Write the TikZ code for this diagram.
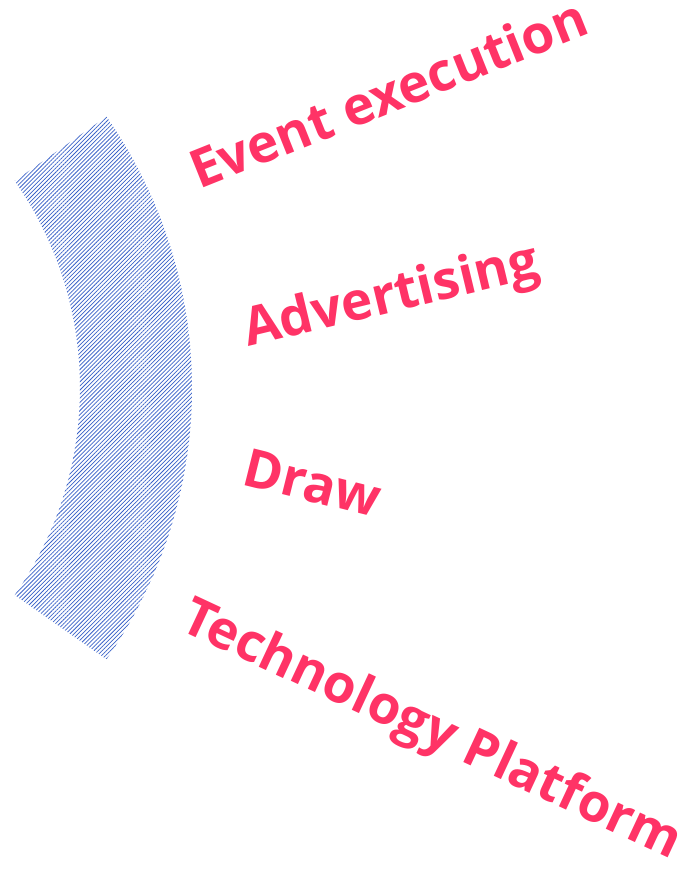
\documentclass[tikz,border=0pt]{standalone}
\usepackage{fontspec}
\setmainfont{Open Sans}
\usetikzlibrary{patterns.meta,calc}
\definecolor{pinkred}{HTML}{FF3366}
\definecolor{hatchblue}{HTML}{3A62C8}
\begin{document}
\begin{tikzpicture}[x=1pt,y=1pt,
  lbl/.style={anchor=base west, inner sep=0pt, text=pinkred, font=\fontsize{53}{53}\selectfont\bfseries}]
\useasboundingbox (0,0) rectangle (687,876);
\coordinate (c) at (-281,488);
\path[pattern={Lines[angle=45,distance=2.9pt,line width=0.75pt]}, pattern color=hatchblue]
  ($(c)+(35:473)$) arc[start angle=35,end angle=-35,radius=473]
  -- ($(c)+(-35:361)$) arc[start angle=-35,end angle=35,radius=361] -- cycle;
\node[lbl, rotate=21.8] (ev) at (199,686) {Event execution};
\node[lbl, rotate=13.5] (ad) at (248,529) {Advertising};
\node[lbl, rotate=-14] (dr) at (240,392) {Draw};
\node[lbl, rotate=-25] (tp) at (178,247) {Technology Platform};
\end{tikzpicture}
\end{document}
